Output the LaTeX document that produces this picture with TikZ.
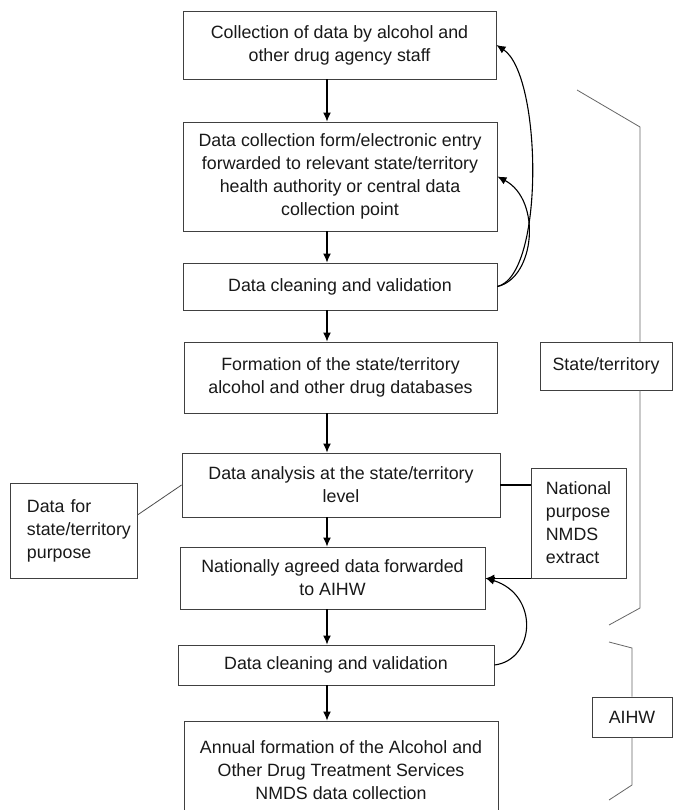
\documentclass[tikz,border=0pt]{standalone}
\usepackage{fontspec}
\setmainfont{Liberation Sans}
\usetikzlibrary{arrows.meta}
\begin{document}
\begin{tikzpicture}[x=1pt,y=-1pt,
  box/.style={draw=black!75, line width=0.9pt, rectangle, align=center, inner sep=2pt,
              font=\fontsize{17.8}{23}\selectfont, text=black!90},
  arr/.style={-{Latex[length=9pt,width=8pt]}, line width=1.2pt, black},
  fb/.style={-{Latex[length=9pt,width=8pt]}, line width=1.1pt, black},
  brk/.style={draw=black!60, line width=0.8pt},
]
\useasboundingbox (0,0) rectangle (674,810);
\clip (0,0) rectangle (674,810);
\fill[white] (0,0) rectangle (674,810);

% main column
\node[box, minimum width=313pt, minimum height=68pt] (b1) at (339.5,45)
  {Collection of data by alcohol and\\other drug agency staff};
\node[box, minimum width=314pt, minimum height=109pt] (b2) at (340,176.5)
  {Data collection form/electronic entry\\forwarded to relevant state/territory\\health authority or central data\\collection point};
\node[box, minimum width=314pt, minimum height=47pt] (b3) at (340,286.5)
  {Data cleaning and validation};
\node[box, minimum width=313pt, minimum height=71pt] (b4) at (340.5,377.5)
  {Formation of the state/territory\\alcohol and other drug databases};
\node[box, minimum width=318pt, minimum height=64pt] (b5) at (341,485)
  {Data analysis at the state/territory\\level};
\node[box, minimum width=305pt, minimum height=62pt] (b6) at (332.5,578)
  {Nationally agreed data forwarded\\to AIHW};
\node[box, minimum width=316pt, minimum height=40pt] (b7) at (336,665)
  {Data cleaning and validation};
\node[box, minimum width=314pt, minimum height=98pt] (b8) at (341,770)
  {Annual formation of the Alcohol and\\Other Drug Treatment Services\\NMDS data collection};

% side boxes
\node[box, align=left, text width=115pt, inner xsep=6pt, minimum height=95pt] (lp) at (73.5,530.5)
  {\hspace*{11pt}Data for\\\hspace*{11pt}state/territory\\\hspace*{11pt}purpose};
\node[box, align=left, minimum width=95pt, minimum height=110pt] (nm) at (578.5,523)
  {National\\purpose\\NMDS\\extract};
\node[box, minimum width=132pt, minimum height=48pt] (st) at (606,366)
  {State/territory};
\node[box, minimum width=80pt, minimum height=40pt] (aihw) at (632,717)
  {AIHW};

% vertical arrows
\coordinate (ax) at (327,0);
\draw[arr] (b1.south -| ax) -- (b2.north -| ax);
\draw[arr] (b2.south -| ax) -- (b3.north -| ax);
\draw[arr] (b3.south -| ax) -- (b4.north -| ax);
\draw[arr] (b4.south -| ax) -- (b5.north -| ax);
\draw[arr] (b5.south -| ax) -- (b6.north -| ax);
\draw[arr] (b6.south -| ax) -- (b7.north -| ax);
\draw[arr] (b7.south -| ax) -- (b8.north -| ax);

% feedback curves
\draw[fb] (b3.east) .. controls (545,275) and (542,75) .. (b1.east);
\draw[fb] (b3.east) .. controls (535,278) and (542,200) .. (b2.east);
\draw[fb] (b7.east) .. controls (535,660) and (540,595) .. (b6.east);

% side connections
\draw[black!70, line width=0.8pt] ([yshift=15.5pt]lp.east) -- (b5.west);
\draw[line width=1.2pt] (b5.east) -- (b5.east -| nm.west);
\draw[arr] (nm.south west) -- (nm.south west -| b6.east);

% brackets
\coordinate (s1) at (577,90);
\coordinate (s2) at (640,127);
\coordinate (s3) at (640,608);
\coordinate (s4) at (609,625);
\draw[brk] (s1) -- (s2) -- (s2 |- st.north);
\draw[brk] (s3 |- st.south) -- (s3) -- (s4);
\coordinate (a1) at (609,642);
\coordinate (a2) at (632,648);
\coordinate (a3) at (632,785);
\coordinate (a4) at (609,800);
\draw[brk] (a1) -- (a2) -- (aihw.north);
\draw[brk] (aihw.south) -- (a3) -- (a4);
\end{tikzpicture}
\end{document}
